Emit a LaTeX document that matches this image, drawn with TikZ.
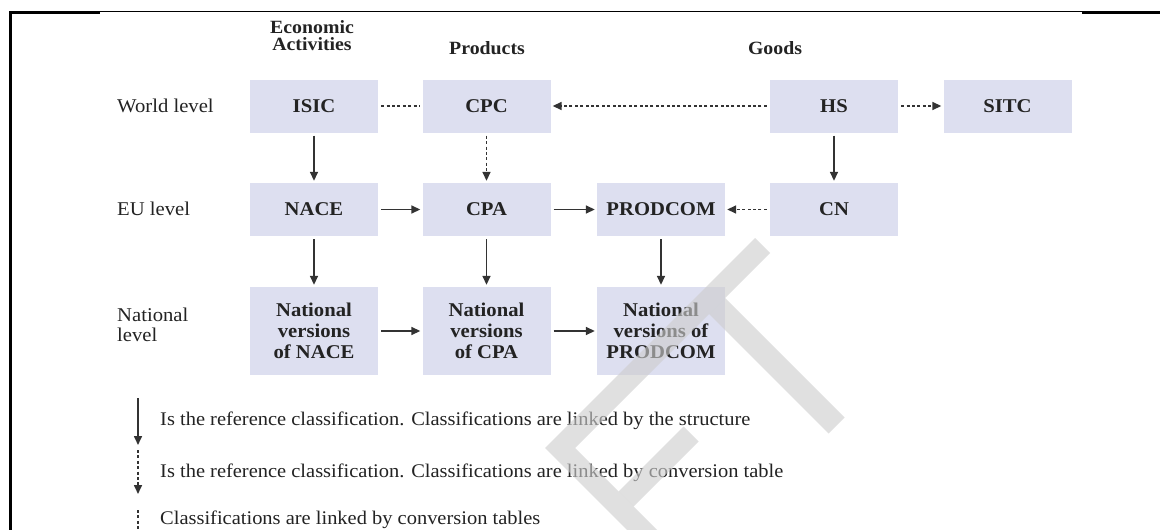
\documentclass[tikz,border=0pt]{standalone}
\usepackage{fontspec}
\setmainfont[FakeStretch=1.06]{Liberation Serif}
\usetikzlibrary{arrows.meta}
\definecolor{boxfill}{RGB}{221,223,240}
\definecolor{txt}{RGB}{35,35,35}
\definecolor{wm}{RGB}{205,205,205}
\begin{document}
\begin{tikzpicture}[x=1pt,y=-1pt,
  cbox/.style={fill=boxfill, minimum width=128pt, minimum height=53pt, inner sep=0pt,
    font=\fontsize{19.5}{21}\selectfont\bfseries, text=txt, align=center},
  nbox/.style={cbox, minimum height=88pt},
  hdr/.style={font=\fontsize{18.7}{17}\selectfont\bfseries, text=txt, align=center},
  rowlbl/.style={font=\fontsize{19.5}{20}\selectfont, text=txt, anchor=west, align=left, inner sep=0pt},
  lgd/.style={font=\fontsize{19.3}{20}\selectfont, text=txt, anchor=west, inner sep=0pt},
  link/.style={line width=1.6pt, draw=black!80, shorten >=2pt, shorten <=3pt},
  arr/.style={link, -{Triangle[length=9pt,width=8pt]}},
  dottedlink/.style={dash pattern=on 3pt off 2.4pt},
  framethick/.style={line width=2.6pt, draw=black},
  framethin/.style={line width=1.2pt, draw=black},
  wmark/.style={fill=wm, draw=none, opacity=0.62},
]
\useasboundingbox (0,0) rectangle (1160,530);
\fill[white] (0,0) rectangle (1160,530);

% frame
\draw[framethick] (10.7,530) -- (10.7,12.2) -- (100,12.2);
\draw[framethin] (100,11.6) -- (1082,11.6);
\draw[framethick] (1082,12.2) -- (1160,12.2);

% headers
\node[hdr] (hEA) at (312,36) {Economic\\Activities};
\node[hdr] (hP) at (487,48) {Products};
\node[hdr] (hG) at (775,48) {Goods};

% row labels
\node[rowlbl] (rW) at (117,106) {World level};
\node[rowlbl] (rE) at (117,209) {EU level};
\node[rowlbl] (rN) at (117,325) {National\\level};

% boxes
\node[cbox] (isic) at (314,106) {ISIC};
\node[cbox] (cpc) at (486.5,106) {CPC};
\node[cbox] (hs) at (834,106) {HS};
\node[cbox] (sitc) at (1007.5,106) {SITC};
\node[cbox] (nace) at (314,209.5) {NACE};
\node[cbox] (cpa) at (486.5,209.5) {CPA};
\node[cbox] (prodcom) at (661,209.5) {PRODCOM};
\node[cbox] (cn) at (834,209.5) {CN};
\node[nbox] (nnace) at (314,331) {National\\versions\\of NACE};
\node[nbox] (ncpa) at (486.5,331) {National\\versions\\of CPA};
\node[nbox] (nprod) at (661,331) {National\\versions of\\PRODCOM};

% connectors
\draw[link, dottedlink] (isic) -- (cpc);
\draw[arr, dottedlink] (hs) -- (cpc);
\draw[arr, dottedlink] (hs) -- (sitc);
\draw[arr] (isic) -- (nace);
\draw[arr, dottedlink] (cpc) -- (cpa);
\draw[arr] (hs) -- (cn);
\draw[arr] (nace) -- (cpa);
\draw[arr] (cpa) -- (prodcom);
\draw[arr, dottedlink] (cn) -- (prodcom);
\draw[arr] (nace) -- (nnace);
\draw[arr] (cpa) -- (ncpa);
\draw[arr] (prodcom) -- (nprod);
\draw[arr] (nnace) -- (ncpa);
\draw[arr] (ncpa) -- (nprod);

% legend
\coordinate (l1a) at (138,398); \coordinate (l1b) at (138,445);
\coordinate (l2a) at (138,450); \coordinate (l2b) at (138,494);
\coordinate (l3a) at (138,510); \coordinate (l3b) at (138,534);
\draw[arr, shorten <=0pt, shorten >=0pt] (l1a) -- (l1b);
\draw[arr, dottedlink, shorten <=0pt, shorten >=0pt] (l2a) -- (l2b);
\draw[link, dottedlink, shorten <=0pt, shorten >=0pt] (l3a) -- (l3b);
\node[lgd] (t1) at (160,421) {Is the reference classification. Classifications are linked by the structure};
\node[lgd] (t2) at (160,473) {Is the reference classification. Classifications are linked by conversion table};
\node[lgd] (t3) at (160,520) {Classifications are linked by conversion tables};

% watermark
\fill[wmark] (755,238) -- (770,253) -- (575,448) -- (657,530) -- (627,530) -- (545,448) -- cycle;
\fill[wmark] (618.5,491.5) -- (683.5,426.5) -- (698.5,441.5) -- (633.5,506.5) -- cycle;
\fill[wmark] (709,314) -- (725,298) -- (844.5,417.5) -- (828.5,433.5) -- cycle;
\end{tikzpicture}
\end{document}
